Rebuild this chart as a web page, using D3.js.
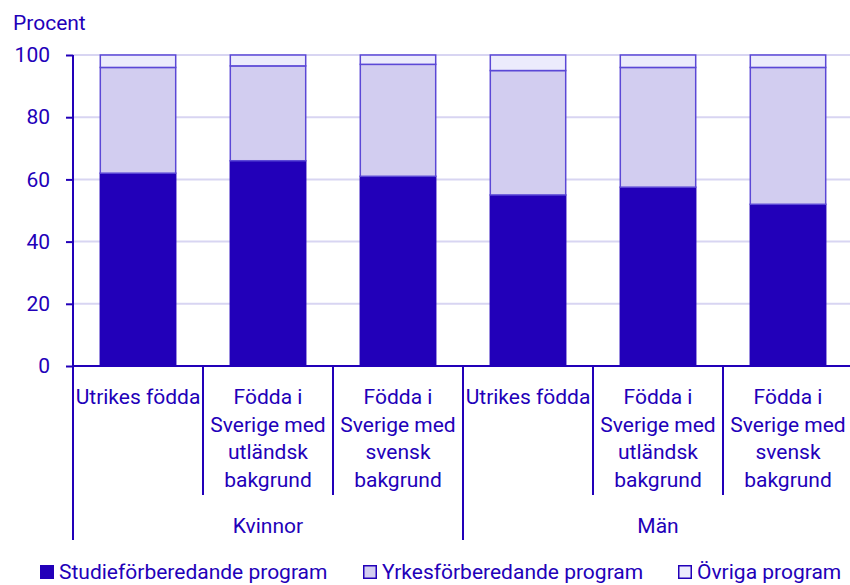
<!DOCTYPE html>
<html>
<head>
<meta charset="utf-8">
<script src="https://cdn.jsdelivr.net/npm/d3@7"></script>
<style>
  body { margin: 0; background: #fff; }
  text { font-family: Roboto, "Open Sans", sans-serif; fill: #2200b9; }
</style>
</head>
<body>
<svg id="chart"></svg>
<script>
const WIDTH = 850;
const HEIGHT = 585;
const FONT = 21;

const groups = ['Kvinnor', 'Män'];
const categories = [
	'Utrikes födda',
	'Födda i Sverige med utländsk bakgrund',
	'Födda i Sverige med svensk bakgrund'
];
const categoryLines = [
	['Utrikes födda'],
	['Födda i', 'Sverige med', 'utländsk', 'bakgrund'],
	['Födda i', 'Sverige med', 'svensk', 'bakgrund']
];
const seriesNames = ['Studieförberedande program', 'Yrkesförberedande program', 'Övriga program'];
// Kvinnor x3 then Män x3
const studie = [62, 66, 61, 55, 57.5, 52];
const yrkes = [34, 30.5, 36, 40, 38.5, 44];
const ovriga = [4, 3.5, 3, 5, 4, 4];
const yTicks = [0, 20, 40, 60, 80, 100];

const fills = ['#2200b9', '#d2cdf0', '#ecebfc'];
const strokes = ['#2200b9', '#5b48d6', '#5b48d6'];

const margin = { top: 55, left: 73, bottom: 219 };
const plotW = 780;

const rows = [];
groups.forEach((g, gi) => {
	categories.forEach((c, ci) => {
		const i = gi * categories.length + ci;
		rows.push({ key: g + '|' + c, group: g, ci, studie: studie[i], yrkes: yrkes[i], ovriga: ovriga[i] });
	});
});

const svg = d3.select('#chart').attr('width', WIDTH).attr('height', HEIGHT);

const x = d3.scaleBand()
	.domain(rows.map((d) => d.key))
	.range([margin.left, margin.left + plotW])
	.paddingInner(0.42)
	.paddingOuter(0.21);
const step = x.step();

const y = d3.scaleLinear().domain([0, 100]).range([HEIGHT - margin.bottom, margin.top]);

// grid
svg.append('g')
	.selectAll('line')
	.data(yTicks.filter((t) => t > 0))
	.enter()
	.append('line')
	.attr('x1', margin.left)
	.attr('x2', WIDTH)
	.attr('y1', (d) => y(d))
	.attr('y2', (d) => y(d))
	.attr('stroke', '#d8d5f2')
	.attr('stroke-width', 2);

// stacked bars
const stack = d3.stack().keys(['studie', 'yrkes', 'ovriga']);
const layers = stack(rows);

svg.append('g')
	.selectAll('g')
	.data(layers)
	.enter()
	.append('g')
	.attr('fill', (d, i) => fills[i])
	.attr('stroke', (d, i) => strokes[i])
	.attr('stroke-width', 1.5)
	.selectAll('rect')
	.data((d) => d)
	.enter()
	.append('rect')
	.attr('x', (d) => x(d.data.key))
	.attr('width', x.bandwidth())
	.attr('y', (d) => y(d[1]))
	.attr('height', (d) => y(d[0]) - y(d[1]));

// y axis
const yAxis = svg.append('g')
	.attr('transform', `translate(${margin.left},0)`)
	.call(d3.axisLeft(y).tickValues(yTicks).tickSize(7).tickPadding(16));
yAxis.select('.domain').attr('stroke', '#2200b9').attr('stroke-width', 2).attr('d', `M0,${y(100)}V${y(0)}`);
yAxis.selectAll('.tick line').attr('stroke', '#2200b9').attr('stroke-width', 2);
yAxis.selectAll('.tick text').attr('font-size', FONT).attr('fill', '#2200b9').style('font-family', 'Roboto');

svg.append('text')
	.attr('x', 13)
	.attr('y', 30)
	.attr('font-size', FONT)
	.text('Procent');

// x baseline
svg.append('line')
	.attr('x1', margin.left)
	.attr('x2', WIDTH)
	.attr('y1', y(0))
	.attr('y2', y(0))
	.attr('stroke', '#2200b9')
	.attr('stroke-width', 2);

// category separators
const catBottom = y(0) + 129;
const grpBottom = y(0) + 174;
rows.forEach((d, i) => {
	const left = x(d.key) - x.paddingOuter() * step;
	const isGroupStart = d.ci === 0;
	svg.append('line')
		.attr('x1', left)
		.attr('x2', left)
		.attr('y1', y(0))
		.attr('y2', isGroupStart ? grpBottom : catBottom)
		.attr('stroke', '#2200b9')
		.attr('stroke-width', 2);
	const cx = left + step / 2;
	const t = svg.append('text')
		.attr('text-anchor', 'middle')
		.attr('font-size', FONT)
		.attr('x', cx)
		.attr('y', y(0) + 38);
	categoryLines[d.ci].forEach((line, li) => {
		t.append('tspan').attr('x', cx).attr('dy', li === 0 ? 0 : 27.5).text(line);
	});
});

// group labels
groups.forEach((g, gi) => {
	const first = x(rows[gi * 3].key) - x.paddingOuter() * step;
	svg.append('text')
		.attr('text-anchor', 'middle')
		.attr('font-size', FONT)
		.attr('x', first + step * 1.5)
		.attr('y', y(0) + 167)
		.text(g);
});

// legend (kept just inside the bottom edge)
const legendX = [40, 363, 678];
const legend = svg.append('g')
	.selectAll('g')
	.data(seriesNames)
	.enter()
	.append('g')
	.attr('transform', (d, i) => `translate(${legendX[i]},565)`);
legend.append('rect')
	.attr('x', 0.75)
	.attr('y', 0.75)
	.attr('width', 12.5)
	.attr('height', 12.5)
	.attr('fill', (d, i) => fills[i])
	.attr('stroke', (d, i) => (i === 0 ? fills[0] : '#2200b9'))
	.attr('stroke-width', 1.5);
legend.append('text')
	.attr('x', 19)
	.attr('y', 14)
	.attr('font-size', FONT)
	.text((d) => d);
</script>
</body>
</html>
